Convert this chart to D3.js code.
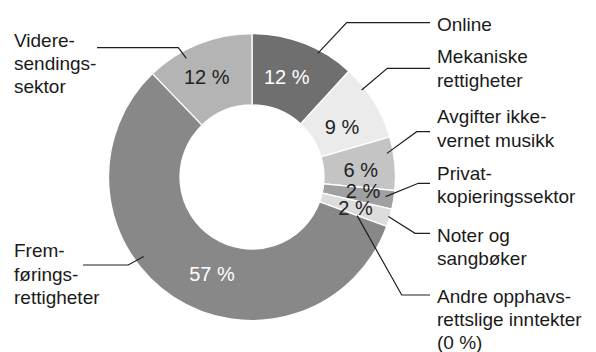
<!DOCTYPE html>
<html>
<head>
<meta charset="utf-8">
<script src="https://cdn.jsdelivr.net/npm/d3@7"></script>
<style>
  html, body { margin: 0; padding: 0; background: #fff; }
  svg { display: block; }
  text { font-family: "Liberation Sans", Arial, sans-serif; }
</style>
</head>
<body>
<svg id="chart" width="596" height="352"></svg>
<script>
// Revenue shares by source (percent), clockwise from 12 o'clock
const categories = [
  "Online",
  "Mekaniske rettigheter",
  "Avgifter ikke-vernet musikk",
  "Privatkopieringssektor",
  "Noter og sangbøker",
  "Andre opphavsrettslige inntekter",
  "Fremføringsrettigheter",
  "Videresendingssektor"
];
const shares = [11.8, 8.7, 6.0, 2.1, 2.0, 0, 57.2, 12.2];

// Category labels, split into lines as printed
const labelLines = [
  ["Online"],
  ["Mekaniske", "rettigheter"],
  ["Avgifter ikke-", "vernet musikk"],
  ["Privat-", "kopieringssektor"],
  ["Noter og", "sangbøker"],
  ["Andre opphavs-", "rettslige inntekter"],
  ["Frem-", "førings-", "rettigheter"],
  ["Videre-", "sendings-", "sektor"]
];

// Fill shades per category
const fills = ["#6f6f6f", "#ebebeb", "#c4c4c4", "#a0a0a0", "#dcdcdc", "#c8c8c8", "#888888", "#b4b4b4"];
const pctInk = ["#ffffff", "#222222", "#222222", "#222222", "#222222", "#222222", "#ffffff", "#222222"];

// ---- layout ----
const W = 596, H = 352;
const cx = 252, cy = 177, rIn = 72, rOut = 143.5;
const lineH = 23.2;

// percentage label: fraction along slice, radius
const pctPos = [
  [0.45, 106], [0.59, 103], [0.58, 109], [0.26, 112], [0.5, 108], null, [0.448, 105], [0.446, 110]
];
// leader: fraction along slice, start radius, elbow, end x, text x, first baseline
const leaders = [
  { t: 0.66, r: 140,   elbow: [346.7, 22.7],  endX: 430, tx: 437, ty: 30.5 },
  { t: 0.29, r: 140,   elbow: [387.3, 68.3],  endX: 430, tx: 437, ty: 63.3 },
  { t: 0.29, r: 137,   elbow: [416.7, 131.7], endX: 430, tx: 437, ty: 123.3 },
  { t: 0.39, r: 135,   elbow: [418.3, 183.3], endX: 430, tx: 437, ty: 180 },
  { t: 0.44, r: 142,   elbow: [415,   233.3], endX: 430, tx: 437, ty: 241.7 },
  { t: 0.5,  r: 112,   elbow: [401.7, 295],   endX: 430, tx: 437, ty: 303 },
  { t: 0.60, r: 134.4, elbow: [128.3, 265],   endX: 83,  tx: 14,  ty: 257.3 },
  { t: 0.34, r: 135.5, elbow: [178.3, 47.7],  endX: 97,  tx: 14,  ty: 46.7 }
];

const data = categories.map((c, i) => ({ name: c, value: shares[i], i }));

const svg = d3.select("#chart");
const g = svg.append("g");

const pie = d3.pie().sort(null).value(d => d.value).startAngle(0).endAngle(2 * Math.PI);
const arcs = pie(data);
const arc = d3.arc().innerRadius(rIn).outerRadius(rOut);

const polar = (a, r) => [cx + r * Math.sin(a), cy - r * Math.cos(a)];

g.selectAll("path.slice")
  .data(arcs.filter(a => a.endAngle > a.startAngle))
  .join("path")
  .attr("class", "slice")
  .attr("transform", `translate(${cx},${cy})`)
  .attr("d", arc)
  .attr("fill", d => fills[d.data.i])
  .attr("stroke", "#ffffff")
  .attr("stroke-width", 1.3);

// percentage labels inside the ring
arcs.forEach(a => {
  const p = pctPos[a.data.i];
  if (!p) return;
  const ang = a.startAngle + p[0] * (a.endAngle - a.startAngle);
  const [x, y] = polar(ang, p[1]);
  g.append("text")
    .attr("x", x).attr("y", y)
    .attr("text-anchor", "middle")
    .attr("dominant-baseline", "central")
    .attr("font-size", 20)
    .attr("fill", pctInk[a.data.i])
    .text(`${Math.round(a.data.value)} %`);
});

// leader lines and category labels
const line = d3.line();
arcs.forEach(a => {
  const L = leaders[a.data.i];
  const ang = a.startAngle + L.t * (a.endAngle - a.startAngle);
  const start = polar(ang, L.r);
  g.append("path")
    .attr("d", line([start, L.elbow, [L.endX, L.elbow[1]]]))
    .attr("fill", "none")
    .attr("stroke", "#1e1e1e")
    .attr("stroke-width", 1.2);

  const lines = labelLines[a.data.i].slice();
  if (a.data.value < 0.5) lines.push(`(${Math.round(a.data.value)} %)`);
  const t = g.append("text")
    .attr("font-size", 19)
    .attr("fill", "#1a1a1a");
  lines.forEach((s, k) => {
    t.append("tspan").attr("x", L.tx).attr("y", L.ty + k * lineH).text(s);
  });
});
</script>
</body>
</html>
